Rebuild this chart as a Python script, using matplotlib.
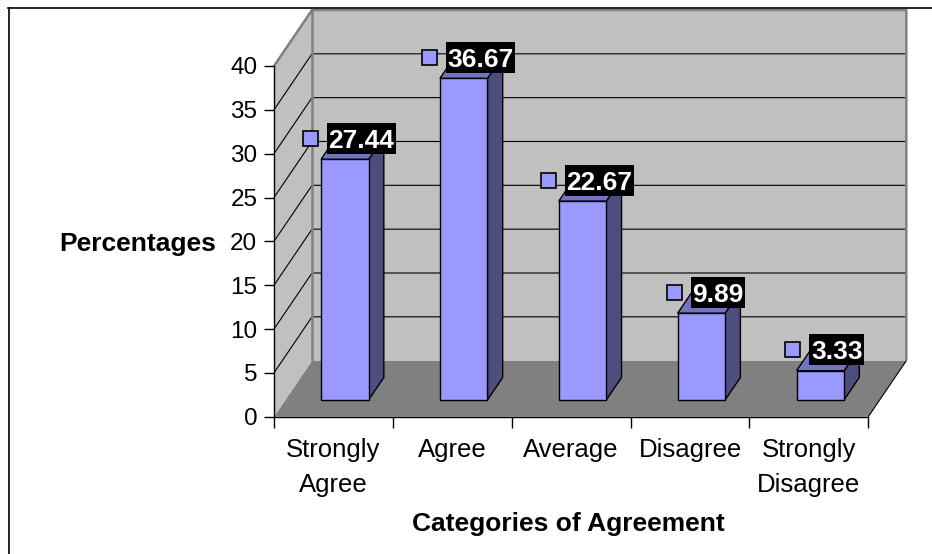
import matplotlib.pyplot as plt
from matplotlib.patches import Polygon, Rectangle
from matplotlib.lines import Line2D
from matplotlib.transforms import IdentityTransform

# survey results
categories = ["Strongly\nAgree", "Agree", "Average", "Disagree", "Strongly\nDisagree"]
percentages = [27.44, 36.67, 22.67, 9.89, 3.33]
y_ticks = [0, 5, 10, 15, 20, 25, 30, 35, 40]

plt.rcParams['font.family'] = ['Liberation Sans', 'DejaVu Sans']

W, H = 932, 554
fig = plt.figure(figsize=(W / 100, H / 100), dpi=100)
fig.patch.set_facecolor('white')

# front plane of the 3d box = the axes rectangle
ax = fig.add_axes([274 / W, 1 - 416.7 / H, 594.3 / W, 350.7 / H])
n = len(categories)
ymax = y_ticks[-1]
ax.set_xlim(0, n)
ax.set_ylim(0, ymax)
ax.patch.set_visible(False)

DX, DY = 0.32, 6.39          # shift of the back wall, in data units


def proj(x, y, d):
    # d = depth, 0 at the front plane, 1 at the back wall
    return (x + d * DX, y + d * DY)


def face(pts, **kw):
    ax.add_patch(Polygon(pts, closed=True, clip_on=False, joinstyle='miter', **kw))


def edge(pts, **kw):
    xs, ys = zip(*pts)
    ax.plot(xs, ys, clip_on=False, solid_capstyle='butt', **kw)


# floor and walls
face([proj(0, 0, 0), proj(n, 0, 0), proj(n, 0, 1), proj(0, 0, 1)], fc='#808080', ec='none', zorder=0)
face([proj(0, 0, 0), proj(0, ymax, 0), proj(0, ymax, 1), proj(0, 0, 1)], fc='#c0c0c0', ec='none', zorder=0)
face([proj(0, 0, 1), proj(n, 0, 1), proj(n, ymax, 1), proj(0, ymax, 1)], fc='#c0c0c0', ec='none', zorder=0)

# gridlines across side wall and back wall
for t in y_ticks[1:-1]:
    edge([proj(0, t, 0), proj(0, t, 1), proj(n, t, 1)], color='black', lw=0.8, zorder=1)

# wall outlines
edge([proj(0, ymax, 0), proj(0, ymax, 1), proj(n, ymax, 1), proj(n, 0, 1)], color='#808080', lw=1.8, zorder=1)
edge([proj(0, 0, 1), proj(0, ymax, 1)], color='#808080', lw=1.8, zorder=1)
edge([proj(n, 0, 0), proj(n, 0, 1)], color='black', lw=0.8, zorder=1)

# 3d bars
d0, d1 = 0.3, 0.7
for i, v in enumerate(percentages):
    x0, x1 = i + 0.3, i + 0.7
    style = dict(ec='black', lw=1.0, zorder=3)
    face([proj(x1, 0, d0), proj(x1, 0, d1), proj(x1, v, d1), proj(x1, v, d0)], fc='#4d4d80', **style)
    face([proj(x0, v, d0), proj(x1, v, d0), proj(x1, v, d1), proj(x0, v, d1)], fc='#7373c4', **style)
    face([proj(x0, 0, d0), proj(x1, 0, d0), proj(x1, v, d0), proj(x0, v, d0)], fc='#9999ff', **style)

# axes, ticks
for s in ['top', 'right']:
    ax.spines[s].set_visible(False)
for s in ['left', 'bottom']:
    ax.spines[s].set_color('black')
    ax.spines[s].set_linewidth(1.0)
ax.set_yticks(y_ticks)
ax.tick_params(axis='y', length=7, width=1, labelsize=17.5, pad=5, colors='black')
ax.set_xticks(range(n + 1))
ax.set_xticklabels([])
ax.tick_params(axis='x', length=8, width=1)

# category labels, one text per line
for i, lab in enumerate(categories):
    for k, line in enumerate(lab.split('\n')):
        yb = 457 + 35 * k
        ax.text(i + 0.5, (416.7 - yb) / 350.7 * ymax, line, ha='center', va='baseline',
                fontsize=18.5, clip_on=False)

fig.text(137.5 / W, 1 - 250.5 / H, "Percentages", ha='center', va='baseline',
         fontsize=19, fontweight='bold')
fig.text(568 / W, 1 - 531 / H, "Categories of Agreement", ha='center', va='baseline',
         fontsize=19, fontweight='bold')

# value labels
LIFT = 21
labels = []
for i, v in enumerate(percentages):
    t = ax.annotate(f"{v:.2f}", xy=proj(i + 0.5, v, d0), xytext=(16.5, LIFT),
                    textcoords='offset pixels', ha='center', va='center_baseline',
                    color='white', fontsize=19, fontweight='bold',
                    zorder=6, annotation_clip=False)
    labels.append(t)

# chart border (top and left)
fig.add_artist(Line2D([8 / W, 1], [1 - 7.5 / H] * 2, transform=fig.transFigure, color='black', lw=1.2))
fig.add_artist(Line2D([8.5 / W] * 2, [0, 1 - 7.5 / H], transform=fig.transFigure, color='black', lw=1.2))

# black boxes behind the value labels, with a legend key on the left
fig.canvas.draw()
r = fig.canvas.get_renderer()
for t in labels:
    bb = t.get_window_extent(r)
    cx = (bb.x0 + bb.x1) / 2
    cy = ax.transData.transform(t.xy)[1] + LIFT
    bw, bh = bb.width + 3, 31
    ax.add_artist(Rectangle((cx - bw / 2, cy - bh / 2), bw, bh, transform=IdentityTransform(),
                            fc='black', ec='none', zorder=5, clip_on=False))
    ax.add_artist(Rectangle((cx - bw / 2 - 9 - 15, cy - 7.5), 15, 15, transform=IdentityTransform(),
                            fc='#9999ff', ec='black', lw=1.2, zorder=6, clip_on=False))

fig.savefig('out.png', dpi=100)
